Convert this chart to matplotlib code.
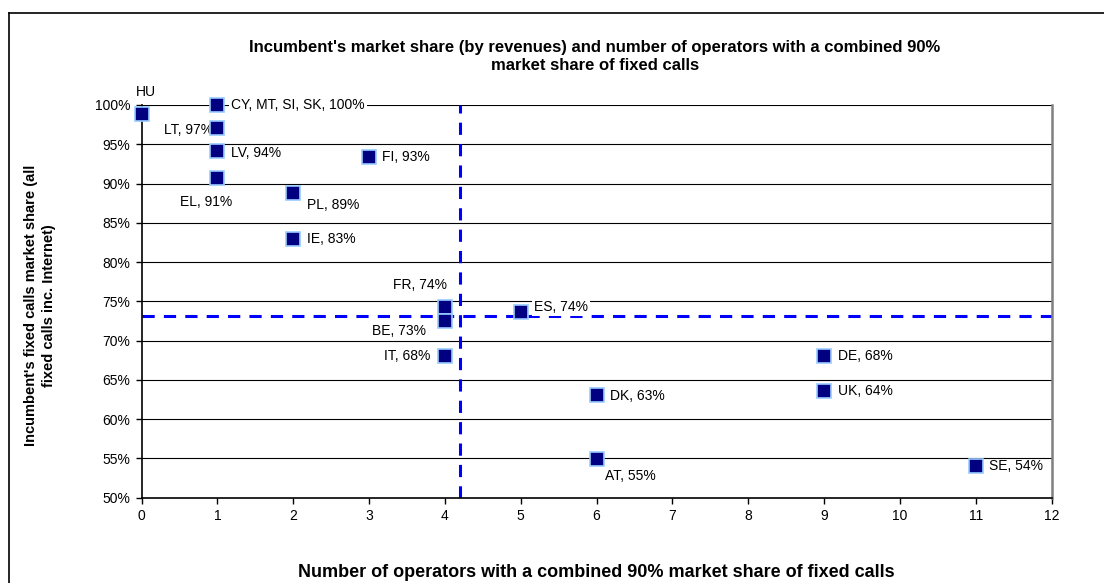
import matplotlib
matplotlib.use("Agg")
import matplotlib.pyplot as plt
from matplotlib.lines import Line2D
from matplotlib.ticker import FuncFormatter

plt.rcParams['font.family'] = ['Liberation Sans', 'DejaVu Sans']

# data
countries = ['HU', 'CY, MT, SI, SK', 'LT', 'LV', 'EL', 'FI', 'PL', 'IE', 'FR', 'BE',
             'IT', 'ES', 'DK', 'AT', 'DE', 'UK', 'SE']
operators = [0, 1, 1, 1, 1, 3, 2, 2, 4, 4, 4, 5, 6, 6, 9, 9, 11]
share = [98.9, 100.0, 97.1, 94.1, 90.7, 93.4, 88.8, 82.9, 74.3, 72.5, 68.0, 73.6,
         63.1, 54.9, 68.0, 63.6, 54.0]
labels = ['HU', 'CY, MT, SI, SK, 100%', 'LT, 97%', 'LV, 94%', 'EL, 91%', 'FI, 93%',
          'PL, 89%', 'IE, 83%', 'FR, 74%', 'BE, 73%', 'IT, 68%', 'ES, 74%', 'DK, 63%',
          'AT, 55%', 'DE, 68%', 'UK, 64%', 'SE, 54%']
avg_operators = 4.2
avg_share = 73.15

# label placement (pixel offsets from the marker, alignment, white box)
label_pos = [
    ((-6, 22), 'left', False),
    ((14, 0), 'left', True),
    ((-4, -2), 'right', False),
    ((14, -1.5), 'left', False),
    ((-11, -24), 'center', False),
    ((13, 0), 'left', False),
    ((14, -12), 'left', False),
    ((14, 0), 'left', False),
    ((2, 22), 'right', False),
    ((-19, -10), 'right', True),
    ((-15, 0), 'right', False),
    ((13.5, 5), 'left', True),
    ((13, -1), 'left', False),
    ((8, -17), 'left', False),
    ((14, 0), 'left', False),
    ((14, 0), 'left', False),
    ((13, 0), 'left', False),
]

fig = plt.figure(figsize=(11.04, 5.83), dpi=100)
ax = fig.add_axes([0.1283, 0.1463, 0.8242, 0.6736])

for y in range(55, 101, 5):
    ax.axhline(y, color='black', linewidth=0.8, zorder=1)

ax.axvline(avg_operators, color='#0000FF', linestyle=(0, (4, 3)), linewidth=2.2, zorder=2)
ax.axhline(avg_share, color='#0000FF', linestyle=(0, (4, 3)), linewidth=2.2, zorder=2)

ax.plot(operators, share, linestyle='none', marker='s', markersize=10,
        markerfacecolor='#000080', markeredgecolor='#99CCFF', markeredgewidth=1.2,
        zorder=5, clip_on=False)

for x, y, lab, (off, ha, box) in zip(operators, share, labels, label_pos):
    kw = {}
    if box:
        kw['bbox'] = dict(facecolor='white', edgecolor='none', pad=1.5)
    ax.annotate(lab, (x, y), xytext=off, textcoords='offset pixels',
                ha=ha, va='center', fontsize=10, zorder=3, **kw)

ax.set_xlim(0, 12)
ax.set_ylim(50, 100)
ax.set_xticks(range(0, 13))
ax.set_yticks(range(50, 101, 5))
ax.yaxis.set_major_formatter(FuncFormatter(lambda v, p: f'{v:.0f}%'))
ax.tick_params(axis='both', direction='out', length=4, width=1, labelsize=10, pad=4)

ax.spines['top'].set_visible(False)
ax.spines['right'].set_color('#808080')
ax.spines['right'].set_linewidth(1.8)
ax.spines['left'].set_linewidth(1.2)
ax.spines['bottom'].set_linewidth(1.2)

fig.text(0.539, 0.903, "Incumbent's market share (by revenues) and number of operators with a combined 90%\n"
         "market share of fixed calls", ha='center', va='center', fontsize=12,
         fontweight='bold', linespacing=1.3)
fig.text(0.540, 0.018, 'Number of operators with a combined 90% market share of fixed calls',
         ha='center', va='center', fontsize=13, fontweight='bold')
fig.text(0.036, 0.476, "Incumbent's fixed calls market share (all\nfixed calls inc. Internet)",
         ha='center', va='center', rotation=90, fontsize=10.5, fontweight='bold',
         linespacing=1.35)

# outer chart frame (left and top edges visible)
fig.add_artist(Line2D([0.0077, 0.0077], [0.0, 0.978], color='black', linewidth=1.2))
fig.add_artist(Line2D([0.0077, 1.0], [0.978, 0.978], color='black', linewidth=1.2))

fig.savefig('out.png', dpi=100)
